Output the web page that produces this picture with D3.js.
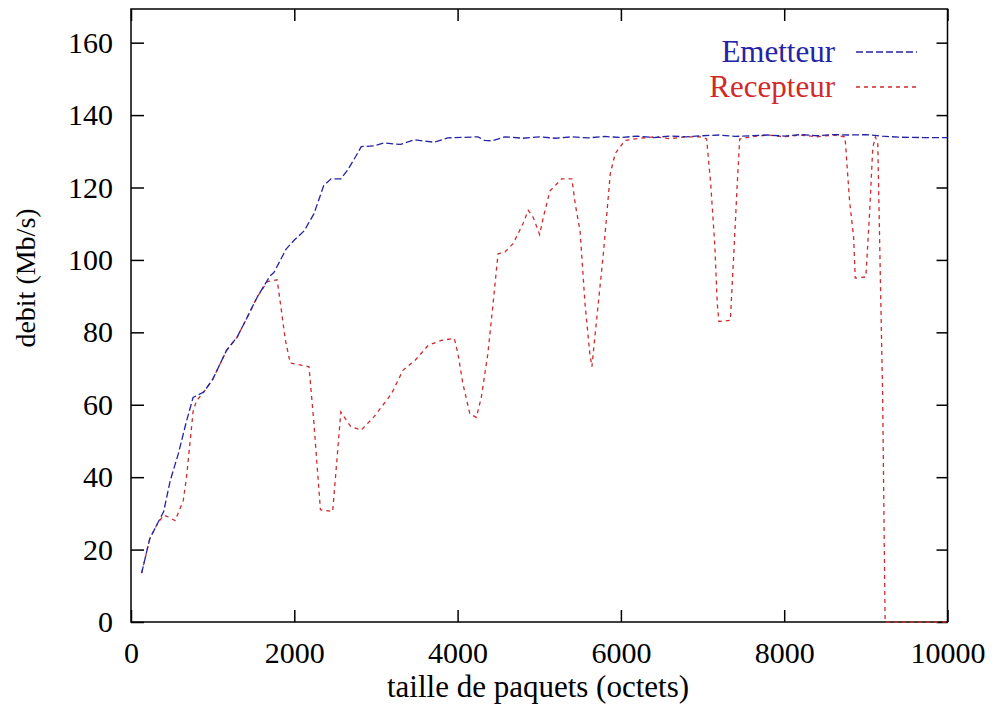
<!DOCTYPE html>
<html>
<head>
<meta charset="utf-8">
<script src="https://cdn.jsdelivr.net/npm/d3@7"></script>
<style>
  body { margin: 0; background: white; }
</style>
</head>
<body>
<div id="container"></div>
<script>
// data: [taille de paquets, debit]
let emetteur = [
  [130,13.5],[230,23],[320,27],[400,30.5],[480,39],[580,46.5],[680,55.5],[760,62],[890,63.5],
  [1000,67],[1170,75],[1300,78.7],[1420,84],[1545,89.7],[1700,95.5],[1750,96.5],[1900,103],
  [2000,105.5],[2120,108],[2240,112.7],[2360,120.5],[2450,122.4],[2570,122.4],[2650,124.7],
  [2750,128.5],[2820,131.3],[2980,131.5],[3100,132.3],[3300,131.9],[3470,133.2],[3600,132.8],
  [3716,132.5],[3880,133.7],[4250,134],[4330,133],[4420,132.9],[4580,134],[4800,133.6],
  [5000,134],[5200,133.6],[5400,134],[5600,133.7],[5800,134.1],[6000,133.8],[6200,134.2],
  [6400,133.8],[6600,134.2],[6800,134],[7000,134.3],[7200,134.5],[7400,134.1],[7600,134.3],
  [7800,134.5],[8000,134.2],[8200,134.6],[8400,134.3],[8600,134.6],[8800,134.5],[9000,134.6],
  [9200,134.2],[9400,133.9],[9700,133.8],[10000,133.8]
];

let recepteur = [
  [130,13.5],[230,23],[320,27],[400,29.5],[460,29],[540,28],[640,33.5],[680,40],[725,50],
  [760,58],[800,61],[890,63.5],[1000,67],[1170,75],[1300,78.7],[1420,84],[1545,89.7],
  [1670,94],[1790,94.5],[1830,88],[1890,78],[1950,71.5],[2180,70.5],[2240,55],[2320,31],
  [2470,30.5],[2570,58],[2690,54],[2820,53],[2980,56.8],[3190,63],[3330,69.5],[3480,72.3],
  [3640,76.4],[3800,77.8],[3960,78.3],[4005,74],[4065,65.8],[4150,57.5],[4230,56.5],
  [4290,62],[4370,74],[4435,88],[4495,101.7],[4580,102.2],[4680,104.5],[4740,107.2],
  [4800,110],[4865,113.7],[4925,111.8],[5005,107],[5050,111.8],[5130,119],[5275,122.4],
  [5400,122.4],[5440,115.5],[5500,108],[5560,88],[5620,74],[5645,70.5],[5685,79.6],
  [5785,101.7],[5870,123.8],[5930,129.4],[6050,133],[6200,133.5],[6400,134],[6600,133.5],
  [6800,134],[7000,134],[7050,133.4],[7100,121],[7150,104],[7180,88],[7200,83],[7340,83.3],
  [7385,102.6],[7425,121],[7455,133.4],[7600,134],[7800,134.5],[8000,134],[8200,134.5],
  [8400,134],[8600,134.5],[8745,134],[8800,116.4],[8850,106.3],[8870,95],[9000,95.3],
  [9045,112.7],[9085,131],[9117,134],[9146,132],[9206,62],[9236,0],[9500,0],[10000,0]
];

let seriesNames = ["Emetteur", "Recepteur"];
let xTicks = [0, 2000, 4000, 6000, 8000, 10000];
let yTicks = [0, 20, 40, 60, 80, 100, 120, 140, 160];
let xDomain = [0, 10000];
let yDomain = [0, 169.3];

let w = 997;
let h = 709;
let plotLeft = 131, plotRight = 947.5, plotTop = 9, plotBottom = 622;
let blue = "#2323a6";
let red = "#d02a2a";
let serifFont = "'Liberation Serif', 'DejaVu Serif', 'Noto Serif', Tinos, Times, 'Times New Roman', FreeSerif, serif";

let viz = d3.select("#container")
  .append("svg")
    .attr("width", w)
    .attr("height", h)
    .attr("font-family", serifFont)
;

let xScale = d3.scaleLinear().domain(xDomain).range([plotLeft, plotRight]);
let yScale = d3.scaleLinear().domain(yDomain).range([plotBottom, plotTop]);

// gnuplot style: ticks point inwards, mirrored on all four sides
let xAxis = d3.axisBottom(xScale).tickValues(xTicks).tickSize(-12).tickPadding(20).tickFormat(d3.format("d"));
let yAxis = d3.axisLeft(yScale).tickValues(yTicks).tickSize(-13).tickPadding(18);
let xAxisTop = d3.axisTop(xScale).tickValues(xTicks).tickSize(-12).tickFormat("");
let yAxisRight = d3.axisRight(yScale).tickValues(yTicks).tickSize(-11).tickFormat("");

function styleAxis(g){
  g.attr("font-family", serifFont).attr("font-size", 30);
  g.select(".domain").remove();
  g.selectAll("line").attr("stroke", "black").attr("stroke-width", 1.5);
  g.selectAll("text").attr("fill", "black");
}

viz.append("g").attr("transform", "translate(0," + plotBottom + ")").call(xAxis).call(styleAxis);
viz.append("g").attr("transform", "translate(" + plotLeft + ",0)").call(yAxis).call(styleAxis);
viz.append("g").attr("transform", "translate(0," + plotTop + ")").call(xAxisTop).call(styleAxis);
viz.append("g").attr("transform", "translate(" + plotRight + ",0)").call(yAxisRight).call(styleAxis);

viz.append("rect")
  .attr("x", plotLeft)
  .attr("y", plotTop)
  .attr("width", plotRight - plotLeft)
  .attr("height", plotBottom - plotTop)
  .attr("fill", "none")
  .attr("stroke", "black")
  .attr("stroke-width", 1.5)
;

let lineMaker = d3.line()
  .x(function(d){ return xScale(d[0]); })
  .y(function(d){ return yScale(d[1]); })
;

let graphGroup = viz.append("g").attr("class", "graphGroup");

graphGroup.append("path")
  .attr("d", lineMaker(recepteur))
  .attr("fill", "none")
  .attr("stroke", red)
  .attr("stroke-width", 1.3)
  .attr("stroke-dasharray", "4,4")
;

graphGroup.append("path")
  .attr("d", lineMaker(emetteur))
  .attr("fill", "none")
  .attr("stroke", blue)
  .attr("stroke-width", 1.3)
  .attr("stroke-dasharray", "7,3")
;

// legend (top right, inside the frame)
let legend = viz.append("g");
let legendColors = [blue, red];
let legendDash = ["7,3", "4,4"];
seriesNames.forEach(function(name, i){
  let yBase = 62 + i * 35;
  legend.append("text")
    .attr("x", 835)
    .attr("y", yBase)
    .attr("text-anchor", "end")
    .attr("fill", legendColors[i])
    .attr("font-size", 31)
    .text(name);
  legend.append("line")
    .attr("x1", 856)
    .attr("x2", 917)
    .attr("y1", yBase - 10)
    .attr("y2", yBase - 10)
    .attr("stroke", legendColors[i])
    .attr("stroke-width", 1.3)
    .attr("stroke-dasharray", legendDash[i]);
});

// axis titles
viz.append("text")
  .attr("x", 538)
  .attr("y", 697)
  .attr("text-anchor", "middle")
  .attr("font-size", 31)
  .text("taille de paquets (octets)");

viz.append("text")
  .attr("transform", "translate(35,278) rotate(-90)")
  .attr("text-anchor", "middle")
  .attr("font-size", 28)
  .text("debit (Mb/s)");
</script>
</body>
</html>
